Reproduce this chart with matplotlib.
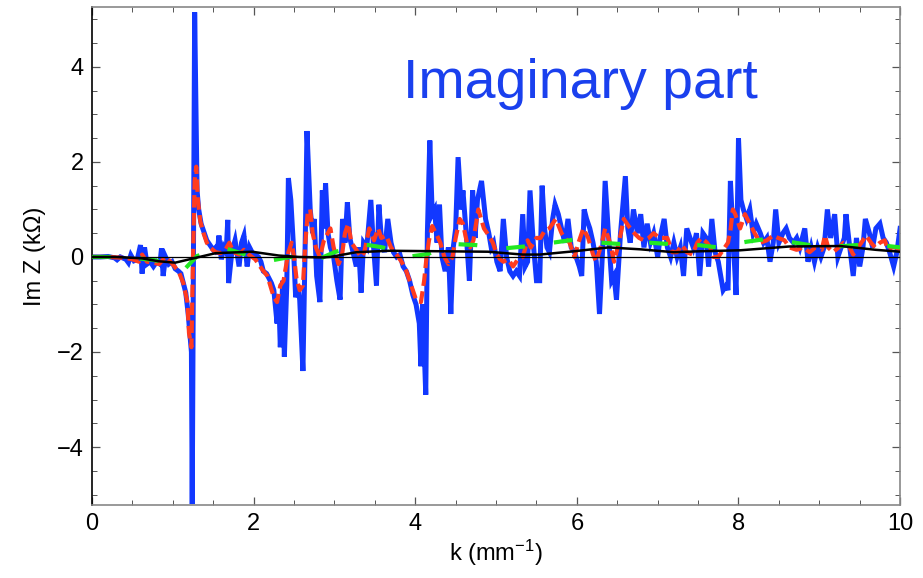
import numpy as np
import matplotlib
matplotlib.use("Agg")
import matplotlib.pyplot as plt

plt.rcParams['font.family'] = ['Liberation Sans', 'DejaVu Sans']
plt.rcParams['mathtext.fontset'] = 'custom'
plt.rcParams['mathtext.rm'] = 'Liberation Sans'
plt.rcParams['mathtext.it'] = 'Liberation Sans:italic'

# Im Z, raw (blue)
k_raw = [0, 0.1, 0.2, 0.28, 0.31, 0.35, 0.42, 0.45, 0.48, 0.52,
         0.56, 0.6, 0.62, 0.65, 0.68, 0.72, 0.76, 0.8, 0.84, 0.86,
         0.88, 0.91, 0.95, 0.99, 1.03, 1.07, 1.1, 1.13, 1.16, 1.19,
         1.21, 1.23, 1.24, 1.27, 1.3, 1.32, 1.35, 1.38, 1.42, 1.46,
         1.5, 1.53, 1.55, 1.57, 1.6, 1.63, 1.66, 1.68, 1.69, 1.73,
         1.77, 1.82, 1.85, 1.88, 1.92, 1.95, 1.98, 2.02, 2.06, 2.09,
         2.12, 2.16, 2.19, 2.22, 2.25, 2.29, 2.31, 2.33, 2.36, 2.38,
         2.41, 2.43, 2.46, 2.49, 2.52, 2.55, 2.57, 2.61, 2.64, 2.66,
         2.7, 2.73, 2.75, 2.78, 2.82, 2.85, 2.87, 2.89, 2.92, 2.95,
         2.99, 3.03, 3.07, 3.1, 3.13, 3.16, 3.19, 3.23, 3.27, 3.3,
         3.33, 3.36, 3.4, 3.45, 3.48, 3.52, 3.55, 3.58, 3.62, 3.66,
         3.7, 3.73, 3.77, 3.81, 3.85, 3.89, 3.93, 3.97, 4.01, 4.05,
         4.07, 4.09, 4.11, 4.13, 4.15, 4.18, 4.21, 4.24, 4.27, 4.3,
         4.33, 4.37, 4.41, 4.44, 4.47, 4.5, 4.53, 4.57, 4.59, 4.63,
         4.67, 4.71, 4.74, 4.77, 4.82, 4.87, 4.91, 4.94, 4.97, 5.01,
         5.05, 5.09, 5.13, 5.17, 5.21, 5.25, 5.29, 5.33, 5.36, 5.39,
         5.42, 5.46, 5.5, 5.54, 5.57, 5.6, 5.63, 5.66, 5.7, 5.73,
         5.77, 5.81, 5.85, 5.89, 5.93, 5.97, 6.03, 6.06, 6.09, 6.12,
         6.16, 6.2, 6.24, 6.28, 6.32, 6.35, 6.39, 6.43, 6.46, 6.49,
         6.54, 6.6, 6.63, 6.66, 6.7, 6.75, 6.79, 6.83, 6.87, 6.91,
         6.95, 7.0, 7.03, 7.08, 7.12, 7.16, 7.2, 7.24, 7.28, 7.32,
         7.36, 7.4, 7.44, 7.48, 7.52, 7.56, 7.6, 7.63, 7.67, 7.71,
         7.75, 7.79, 7.81, 7.85, 7.87, 7.9, 7.94, 7.97, 8.0, 8.03,
         8.06, 8.1, 8.14, 8.18, 8.22, 8.27, 8.31, 8.35, 8.39, 8.43,
         8.46, 8.5, 8.55, 8.59, 8.63, 8.68, 8.72, 8.76, 8.82, 8.86,
         8.9, 8.94, 8.98, 9.02, 9.06, 9.1, 9.14, 9.19, 9.23, 9.27,
         9.31, 9.33, 9.37, 9.42, 9.46, 9.5, 9.54, 9.57, 9.62, 9.66,
         9.7, 9.75, 9.79, 9.83, 9.87, 9.92, 9.96, 10.0]
im_raw = [0, 0.0, 0.01, -0.02, -0.06, 0.0, -0.05, -0.12, 0.04, -0.08,
          -0.05, 0.25, -0.35, 0.2, -0.15, -0.1, -0.2, -0.1, -0.15, 0.18,
          -0.4, 0.0, -0.15, -0.1, -0.25, -0.3, -0.35, -0.55, -0.75, -1.2,
          -1.6, -2.0, -5.2, 5.15, 1.4, 1.0, 0.7, 0.55, 0.35, 0.25,
          0.15, 0.2, 0.05, 0.45, -0.05, 0.2, 0.1, 0.78, -0.55, 0.1,
          0.35, -0.2, 0.3, 0.45, -0.2, 0.2, 0.1, 0.05, 0.0, -0.1,
          -0.3, -0.35, -0.45, -0.55, -0.7, -1.4, -0.8, -1.9, -0.5, -2.1,
          -0.6, 1.66, 1.2, 0.3, -0.85, -0.6, -0.9, -2.4, 0.5, 2.65,
          1.0, 0.5, 0.8, -0.4, -0.95, 1.4, 0.6, 1.55, 0.5, 0.2,
          0.0, -0.5, -0.9, 0.8, 0.3, 1.15, 0.4, 0.1, -0.2, 0.2,
          -0.75, 0.3, 0.2, 1.2, 0.3, -0.6, 1.1, 0.4, 0.1, 0.8,
          0.3, 0.1, 0.0, 0.05, -0.2, -0.3, -0.5, -0.8, -1.0, -1.4,
          -2.3, -1.0, -1.9, -2.9, 0.5, 2.45, 0.9, 1.0, 0.3, 1.1,
          0.0, -0.3, 0.2, -1.2, 0.2, 0.6, 2.1, 1.0, 1.4, 0.5,
          -0.5, 1.4, 0.4, 1.2, 1.6, 0.8, 0.5, 0.2, 0.3, -0.1,
          -0.3, 0.8, 0.0, -0.3, -0.4, -0.3, -0.4, 0.9, -0.2, -0.1,
          1.4, 0.3, -0.5, -0.5, 1.5, 0.6, 0.2, 0.1, 0.8, 1.1,
          0.9, 0.6, 0.3, 0.8, 0.2, 0.1, -0.2, -0.4, 1.0, 0.8,
          0.6, 0.3, -0.1, -1.2, 0.2, 1.6, 0.5, -0.5, -0.4, -0.9,
          0.5, 1.7, 0.6, 0.3, 1.0, 0.5, 0.9, 0.2, 0.7, 0.3,
          0.5, 0.0, 0.4, 0.8, 0.2, 0.0, 0.3, 0.0, 0.2, -0.4,
          0.6, 0.4, 0.2, 0.5, -0.4, 0.5, 0.4, -0.2, 0.8, 0.1,
          -0.1, -0.5, -0.7, -0.6, -0.7, 1.6, 0.2, -0.8, 2.5, 1.2,
          1.0, 0.8, 1.0, 0.5, 0.7, 0.5, 0.3, 0.4, -0.1, 0.3,
          1.0, 0.3, 0.5, 0.6, 0.4, 0.3, 0.4, 0.2, 0.6, -0.1,
          0.2, -0.1, 0.2, 0.0, 0.2, 1.0, 0.4, 0.9, 0.0, 0.2,
          0.4, 0.9, 0.3, -0.4, 0.4, -0.2, 0.2, 0.8, 0.5, 0.2,
          0.6, 0.7, 0.4, 0.3, 0.1, -0.2, 0.1, 0.6]

# smoothed (red dashed)
k_smooth = [0, 0.2, 0.41, 0.5, 0.58, 0.62, 0.68, 0.76, 0.83, 0.91,
            0.97, 1.02, 1.07, 1.13, 1.18, 1.2, 1.23, 1.25, 1.27, 1.29,
            1.31, 1.34, 1.38, 1.42, 1.46, 1.53, 1.59, 1.65, 1.7, 1.75,
            1.82, 1.88, 1.94, 2.02, 2.1, 2.17, 2.25, 2.29, 2.33, 2.37,
            2.43, 2.47, 2.5, 2.53, 2.57, 2.61, 2.64, 2.67, 2.7, 2.73,
            2.77, 2.82, 2.87, 2.95, 2.99, 3.05, 3.09, 3.13, 3.17, 3.21,
            3.27, 3.33, 3.37, 3.43, 3.49, 3.54, 3.58, 3.64, 3.7, 3.77,
            3.83, 3.89, 3.95, 4.01, 4.07, 4.11, 4.14, 4.17, 4.21, 4.27,
            4.31, 4.36, 4.41, 4.46, 4.5, 4.55, 4.59, 4.64, 4.68, 4.72,
            4.78, 4.85, 4.91, 4.96, 5.01, 5.05, 5.09, 5.15, 5.21, 5.27,
            5.33, 5.39, 5.43, 5.5, 5.55, 5.6, 5.66, 5.74, 5.81, 5.85,
            5.91, 5.97, 6.02, 6.08, 6.14, 6.2, 6.24, 6.31, 6.35, 6.41,
            6.46, 6.52, 6.58, 6.64, 6.71, 6.77, 6.83, 6.89, 6.95, 7.02,
            7.08, 7.12, 7.18, 7.24, 7.3, 7.36, 7.43, 7.49, 7.54, 7.61,
            7.65, 7.69, 7.75, 7.81, 7.87, 7.9, 7.93, 7.96, 8.02, 8.08,
            8.14, 8.2, 8.27, 8.35, 8.43, 8.49, 8.57, 8.63, 8.72, 8.8,
            8.88, 8.95, 9.03, 9.07, 9.11, 9.17, 9.24, 9.3, 9.36, 9.42,
            9.48, 9.58, 9.64, 9.69, 9.75, 9.81, 9.85, 9.9, 9.95, 10.0]
im_smooth = [0, 0.0, -0.02, -0.05, -0.1, 0.05, -0.1, -0.12, -0.15, 0.0,
             -0.1, -0.2, -0.3, -0.55, -0.95, -1.6, -1.9, 0.0, 1.6, 1.9,
             1.2, 0.75, 0.5, 0.3, 0.2, 0.1, 0.08, 0.15, 0.3, 0.1,
             0.05, 0.15, 0.05, -0.05, -0.25, -0.4, -0.85, -0.95, -0.6, -0.5,
             0.1, 0.3, 0.0, -0.45, -0.7, -0.6, 0.3, 0.95, 1.0, 0.5,
             0.2, 0.0, 0.35, 0.6, 0.2, -0.15, 0.0, 0.5, 0.7, 0.3,
             0.15, 0.0, 0.1, 0.6, 0.35, 0.6, 0.4, 0.45, 0.2, 0.05,
             -0.1, -0.3, -0.6, -0.9, -0.95, -0.5, 0.0, 0.35, 0.65, 0.45,
             0.3, 0.0, -0.15, 0.0, 0.4, 0.8, 0.7, 0.3, 0.2, 0.35,
             1.0, 0.6, 0.45, 0.3, 0.05, -0.05, -0.1, -0.05, -0.2, -0.05,
             0.0, 0.35, 0.2, 0.4, 0.4, 0.55, 0.6, 0.8, 0.5, 0.4,
             0.3, 0.0, 0.3, 0.6, 0.4, 0.05, -0.1, 0.3, 0.6, 0.3,
             -0.1, 0.3, 0.8, 0.65, 0.5, 0.4, 0.35, 0.4, 0.5, 0.4,
             0.4, 0.4, 0.1, 0.1, 0.25, 0.1, 0.05, 0.3, 0.4, 0.3,
             0.2, 0.0, 0.0, 0.15, 0.3, 0.55, 1.0, 0.9, 0.6, 0.9,
             0.7, 0.5, 0.3, 0.35, 0.45, 0.4, 0.35, 0.2, 0.15, 0.2,
             0.1, 0.2, 0.15, 0.45, 0.2, 0.1, 0.2, 0.3, 0.25, 0.05,
             0.2, 0.45, 0.3, 0.2, 0.3, 0.35, 0.15, 0.2, 0.2, 0.15]

# strongly smoothed (green dashed)
k_wide = [0, 0.25, 0.5, 0.75, 1.0, 1.15, 1.3, 1.5, 1.65, 1.9,
          2.2, 2.45, 2.8, 3.0, 3.35, 3.6, 3.9, 4.15, 4.5, 4.75,
          5.1, 5.35, 5.7, 5.95, 6.3, 6.55, 6.9, 7.15, 7.5, 7.75,
          8.1, 8.35, 8.7, 8.95, 9.3, 9.55, 9.85, 10.0]
im_wide = [0, 0.0, -0.02, -0.06, -0.15, -0.25, 0.02, 0.12, 0.18, 0.05,
           -0.08, 0.0, -0.05, 0.1, 0.27, 0.2, 0.0, 0.06, 0.27, 0.25,
           0.18, 0.22, 0.3, 0.36, 0.3, 0.27, 0.3, 0.27, 0.25, 0.2,
           0.32, 0.38, 0.3, 0.23, 0.23, 0.26, 0.23, 0.2]

# model (black)
k_model = [0, 0.3, 0.62, 0.82, 1.03, 1.28, 1.53, 1.98, 2.31, 2.56,
           2.86, 2.95, 3.27, 3.68, 4.3, 4.9, 5.33, 5.54, 5.97, 6.39,
           6.79, 7.2, 7.53, 8.02, 8.63, 9.26, 9.7, 10.0]
im_model = [0, 0, -0.03, -0.09, -0.12, -0.02, 0.08, 0.11, 0.03, 0.0,
            -0.01, 0.0, 0.1, 0.13, 0.12, 0.11, 0.05, 0.05, 0.12, 0.2,
            0.16, 0.1, 0.12, 0.14, 0.22, 0.23, 0.15, 0.11]

fig = plt.figure(figsize=(9.23, 5.78), dpi=100)
ax = fig.add_axes([0.0997, 0.1263, 0.8755, 0.8616])

ax.plot(k_raw, im_raw, color='#1238ff', lw=3.6, solid_joinstyle='miter', zorder=2)
ax.plot(k_smooth, im_smooth, color='#ff3b1f', lw=3.0, dashes=(3, 1.3), zorder=3)
ax.plot(k_wide, im_wide, color='#22e822', lw=3.0, dashes=(4.5, 7), zorder=4)
ax.plot(k_model, im_model, color='black', lw=1.8, zorder=5)
ax.axhline(0, color='black', lw=0.9, zorder=6)

ax.set_xlim(0, 10)
ax.set_ylim(-5.22, 5.26)
ax.set_xticks(np.arange(0, 11, 2))
ax.set_yticks([-4, -2, 0, 2, 4])
ax.set_xticks(np.arange(0, 10.01, 0.5), minor=True)
ax.set_yticks(np.arange(-5, 5.01, 0.5), minor=True)
ax.tick_params(which='both', direction='in', top=True, right=True,
               labelsize=17, pad=6)
ax.tick_params(which='major', length=6, width=0.9, color='#555555')
ax.tick_params(which='minor', length=3.5, width=0.7, color='#555555')
ax.spines['left'].set_color('black')
for s in ['top', 'right', 'bottom']:
    ax.spines[s].set_color('#888888')
for s in ax.spines.values():
    s.set_linewidth(1.2)

ax.set_xlabel('k (mm$^{-1}$)', fontsize=17, labelpad=2)
ax.set_ylabel('Im Z (k\u03a9)', fontsize=17, labelpad=8)

ax.text(6.05, 3.35, 'Imaginary part', color='#1a40ee', fontsize=40,
        ha='center', va='baseline')

fig.savefig('out.png', dpi=100)
